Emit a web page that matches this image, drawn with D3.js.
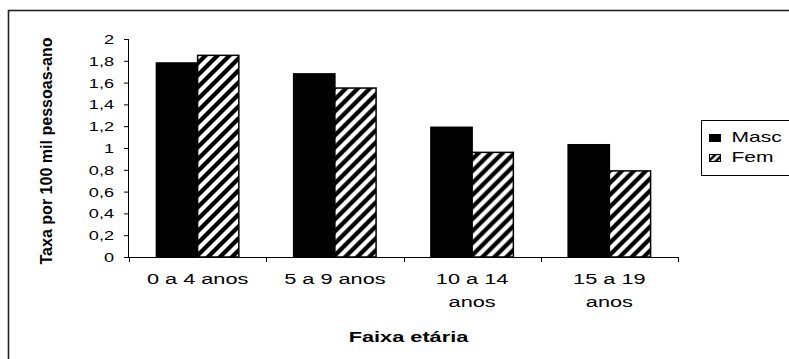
<!DOCTYPE html>
<html>
<head>
<meta charset="utf-8">
<script src="https://cdn.jsdelivr.net/npm/d3@7"></script>
<style>
  body { margin: 0; background: #fff; }
  svg { display: block; }
  text { font-family: "Liberation Sans", Arial, sans-serif; fill: #000; }
</style>
</head>
<body>
<svg id="chart" width="789" height="359"></svg>
<script>
// Age groups and their (possibly wrapped) labels
const categories = ["0 a 4 anos", "5 a 9 anos", "10 a 14 anos", "15 a 19 anos"];
const categoryLines = [["0 a 4 anos"], ["5 a 9 anos"], ["10 a 14", "anos"], ["15 a 19", "anos"]];

// Series
const seriesNames = ["Masc", "Fem"];
const mascValues = [1.78, 1.68, 1.19, 1.03];
const femValues  = [1.85, 1.55, 0.96, 0.79];

// Value axis ticks
const yTicks      = [0, 0.2, 0.4, 0.6, 0.8, 1, 1.2, 1.4, 1.6, 1.8, 2];
const yTickLabels = ["0", "0,2", "0,4", "0,6", "0,8", "1", "1,2", "1,4", "1,6", "1,8", "2"];

const yTitle = "Taxa por 100 mil pessoas-ano";
const xTitle = "Faixa etária";

const rows = categories.map((c, i) => ({ cat: c, values: { Masc: mascValues[i], Fem: femValues[i] } }));

const svg = d3.select("#chart");
const plot = { left: 129, right: 678, top: 39, bottom: 257 };
const SX = 1.5; // horizontal stretch of the chart lettering

// Outer frame (only left and top edges fall inside the view)
svg.append("rect")
  .attr("x", 8.5).attr("y", 10.5)
  .attr("width", 900).attr("height", 500)
  .attr("fill", "#fff").attr("stroke", "#222").attr("stroke-width", 1.6);

// Hatch patterns for the "Fem" series
const defs = svg.append("defs");
function hatch(id, p, w) {
  const pat = defs.append("pattern").attr("id", id)
    .attr("patternUnits", "userSpaceOnUse").attr("width", p).attr("height", p);
  pat.append("rect").attr("width", p).attr("height", p).attr("fill", "#fff");
  pat.append("path")
    .attr("d", `M0,${p} L${p},0 M${-p/4},${p/4} L${p/4},${-p/4} M${p*3/4},${p*5/4} L${p*5/4},${p*3/4}`)
    .attr("stroke", "#000").attr("stroke-width", w).attr("stroke-linecap", "square");
}
hatch("hatchFem", 12, 4.3);
hatch("hatchFemSmall", 7, 2.6);

const fills = { Masc: "#000", Fem: "url(#hatchFem)" };

// Scales
const x = d3.scaleBand().domain(categories).range([plot.left, plot.right]).paddingInner(0).paddingOuter(0);
const xs = d3.scaleBand().domain(seriesNames).range([0, x.bandwidth()]).paddingInner(0).paddingOuter(0.665);
const y = d3.scaleLinear().domain([0, 2]).range([plot.bottom, plot.top]);

// Bars
const groups = svg.append("g").selectAll("g").data(rows).join("g")
  .attr("transform", d => `translate(${x(d.cat)},0)`);
groups.selectAll("rect")
  .data(d => seriesNames.map(s => ({ s, v: d.values[s] })))
  .join("rect")
  .attr("x", d => xs(d.s))
  .attr("width", xs.bandwidth())
  .attr("y", d => y(d.v))
  .attr("height", d => y(0) - y(d.v))
  .attr("fill", d => fills[d.s])
  .attr("stroke", "#000").attr("stroke-width", 1.5);

// Y axis
const yAxis = svg.append("g")
  .attr("transform", `translate(${plot.left},0)`)
  .call(d3.axisLeft(y).tickValues(yTicks).tickSize(5)
    .tickFormat((d, i) => yTickLabels[i]));
yAxis.select(".domain").attr("stroke", "#000").attr("d", `M-0.5,${plot.top}V${plot.bottom}`);
yAxis.selectAll(".tick line").attr("stroke", "#000");
yAxis.selectAll(".tick text")
  .attr("x", null).attr("dy", "0.36em")
  .attr("transform", `translate(-15,0) scale(1.45,1)`)
  .attr("font-size", 12.5)
  .style("font-family", "'Liberation Sans', Arial, sans-serif");

// X axis: labels centred on categories, ticks at category boundaries
const xAxis = svg.append("g")
  .attr("transform", `translate(0,${plot.bottom})`)
  .call(d3.axisBottom(x).tickSize(0).tickFormat(""));
xAxis.select(".domain").attr("stroke", "#000").attr("d", `M${plot.left},0.5H${plot.right}`);
xAxis.selectAll(".tick").each(function (d, i) {
  const t = d3.select(this).append("text")
    .attr("text-anchor", "middle")
    .attr("font-size", 14.5)
    .attr("transform", `scale(${SX},1)`);
  categoryLines[i].forEach((line, k) => {
    t.append("tspan").attr("x", 0).attr("y", 27 + k * 23).text(line);
  });
});
const boundaries = categories.map(c => x(c)).concat([x(categories[categories.length - 1]) + x.bandwidth()]);
xAxis.selectAll(".boundary").data(boundaries).join("line")
  .attr("class", "boundary")
  .attr("x1", d => Math.round(d) + 0.5).attr("x2", d => Math.round(d) + 0.5)
  .attr("y1", 0).attr("y2", 5)
  .attr("stroke", "#000");

// Axis titles
svg.append("text")
  .attr("transform", `translate(${(plot.left + plot.right) / 2 + 5},342) scale(${SX},1)`)
  .attr("text-anchor", "middle")
  .attr("font-size", 14.5).attr("font-weight", "bold")
  .text(xTitle);

svg.append("text")
  .attr("transform", `translate(52,151) rotate(-90)`)
  .attr("text-anchor", "middle")
  .attr("font-size", 16).attr("font-weight", "bold")
  .attr("textLength", 227).attr("lengthAdjust", "spacingAndGlyphs")
  .text(yTitle);

// Legend
const legend = svg.append("g").attr("transform", "translate(701.5,120.5)");
legend.append("rect").attr("width", 120).attr("height", 55)
  .attr("fill", "#fff").attr("stroke", "#000").attr("stroke-width", 1);
const legendFills = { Masc: "#000", Fem: "url(#hatchFemSmall)" };
seriesNames.forEach((s, i) => {
  const row = legend.append("g").attr("transform", `translate(0,${14 + i * 20})`);
  row.append("rect").attr("x", 8).attr("y", 0).attr("width", 11).attr("height", 7)
    .attr("fill", legendFills[s]).attr("stroke", "#000").attr("stroke-width", 1);
  row.append("text")
    .attr("transform", `translate(30,7) scale(${SX},1)`)
    .attr("font-size", 14)
    .text(s);
});
</script>
</body>
</html>
